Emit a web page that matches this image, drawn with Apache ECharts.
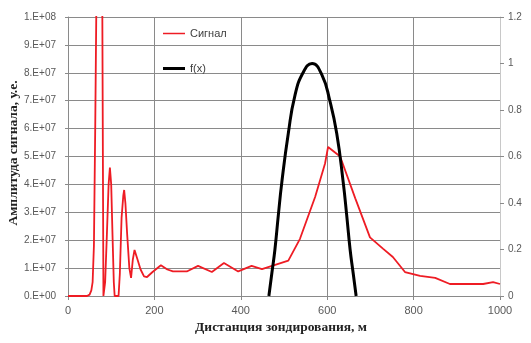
<!DOCTYPE html>
<html>
<head>
<meta charset="utf-8">
<script src="https://cdn.jsdelivr.net/npm/echarts@6/dist/echarts.min.js"></script>
<style>
  html, body { margin: 0; padding: 0; background: #fff; }
  #chart { width: 531px; height: 343px; }
</style>
</head>
<body>
<div id="chart"></div>
<script>
// Sounding distance, m, and the received signal amplitude (arb. units)
const signalDist = [0, 20, 44, 50, 54, 57, 60, 63, 66, 71, 77, 79.5, 82, 86, 90, 94, 97, 100, 103, 106, 108, 117, 120, 124, 128, 130, 133, 137, 142, 146, 150, 154, 160, 168, 176, 183, 195, 215, 230, 243, 275, 301, 333, 361, 394, 425, 449, 510, 537, 572, 595, 602, 630, 665, 699, 729, 752, 780, 815, 850, 884, 961, 984, 1000];
const signalAmp = [0, 0, 0, 5e5, 2e6, 5e6, 1.8e7, 6e7, 1.1e8, 1.5e8, 1.4e8, 1e8, 0, 5e6, 2.2e7, 4e7, 4.6e7, 4e7, 2.2e7, 5e6, 0, 0, 8e6, 2.8e7, 3.6e7, 3.8e7, 3.3e7, 2.2e7, 1e7, 6.5e6, 1.3e7, 1.65e7, 1.35e7, 9.5e6, 7e6, 6.8e6, 8.5e6, 1.1e7, 9.5e6, 8.8e6, 8.8e6, 1.08e7, 8.6e6, 1.18e7, 8.8e6, 1.08e7, 9.6e6, 1.27e7, 2.05e7, 3.55e7, 4.75e7, 5.34e7, 5.0e7, 3.5e7, 2.1e7, 1.7e7, 1.4e7, 8.6e6, 7.2e6, 6.5e6, 4.3e6, 4.3e6, 5e6, 4.3e6];

// Window function f(x), right axis
const fxDist = [465, 472, 479, 487, 495, 510, 525, 544, 565, 588, 606, 622, 637, 645, 653, 660, 667];
const fxValue = [0, 0.1, 0.2, 0.35, 0.49, 0.7, 0.86, 0.96, 1.0, 0.95, 0.84, 0.7, 0.49, 0.35, 0.2, 0.1, 0];

// Axis tick labels
const leftTickLabels = ['0.E+00', '1.E+07', '2.E+07', '3.E+07', '4.E+07', '5.E+07', '6.E+07', '7.E+07', '8.E+07', '9.E+07', '1.E+08'];
const rightTickLabels = ['0', '0.2', '0.4', '0.6', '0.8', '1', '1.2'];
const xTickLabels = ['0', '200', '400', '600', '800', '1000'];

const signalData = signalDist.map((d, i) => [d, signalAmp[i]]);
const fxData = fxDist.map((d, i) => [d, fxValue[i]]);

const gridColor = '#8a8a8a';
const labelColor = '#595959';
const tickFont = 'Liberation Sans';
const nameFont = 'Liberation Serif';

const chart = echarts.init(document.getElementById('chart'), null, { renderer: 'canvas' });
chart.setOption({
  animation: false,
  backgroundColor: '#fff',
  grid: { left: 68, right: 31, top: 17, bottom: 47, containLabel: false, outerBoundsMode: 'none' },
  legend: [
    {
      data: [{ name: 'Сигнал', icon: 'rect' }],
      left: 158, top: 23,
      itemWidth: 22, itemHeight: 1.5,
      textStyle: { fontFamily: tickFont, fontSize: 11, color: '#404040' },
      itemGap: 0
    },
    {
      data: [{ name: 'f(x)', icon: 'rect' }],
      left: 158, top: 58,
      itemWidth: 22, itemHeight: 3,
      textStyle: { fontFamily: tickFont, fontSize: 11, color: '#404040' },
      itemGap: 0
    }
  ],
  xAxis: {
    type: 'value', min: 0, max: 1000, interval: 200,
    name: 'Дистанция зондирования, м',
    nameLocation: 'middle', nameGap: 25, nameMoveOverlap: false,
    nameTextStyle: { fontFamily: nameFont, fontWeight: 'bold', fontSize: 13.5, color: '#222', padding: [0, 6, 0, 0] },
    axisLine: { show: true, lineStyle: { color: gridColor, width: 1 } },
    axisTick: { show: true, length: 4, lineStyle: { color: gridColor } },
    axisLabel: {
      margin: 9, fontFamily: tickFont, fontSize: 11, color: labelColor,
      formatter: (v) => xTickLabels[Math.round(v / 200)]
    },
    splitLine: { show: true, lineStyle: { color: gridColor, width: 1 } }
  },
  yAxis: [
    {
      type: 'value', min: 0, max: 1e8, interval: 1e7,
      name: 'Амплитуда сигнала, у.е.',
      nameLocation: 'middle', nameGap: 47, nameMoveOverlap: false,
      nameTextStyle: { fontFamily: nameFont, fontWeight: 'bold', fontSize: 13.5, color: '#222', padding: [0, 0, 0, 7] },
      axisLine: { show: true, lineStyle: { color: gridColor, width: 1 } },
      axisTick: { show: true, length: 3, lineStyle: { color: gridColor } },
      axisLabel: {
        margin: 12, fontFamily: tickFont, fontSize: 10, color: labelColor,
        formatter: (v) => leftTickLabels[Math.round(v / 1e7)]
      },
      splitLine: { show: true, lineStyle: { color: gridColor, width: 1 } }
    },
    {
      type: 'value', min: 0, max: 1.2, interval: 0.2, position: 'right',
      axisLine: { show: true, lineStyle: { color: '#c8c8c8', width: 1 } },
      axisTick: { show: true, length: 4, lineStyle: { color: gridColor } },
      axisLabel: {
        margin: 8, fontFamily: tickFont, fontSize: 10, color: labelColor,
        formatter: (v) => rightTickLabels[Math.round(v / 0.2)]
      },
      splitLine: { show: false }
    }
  ],
  series: [
    {
      name: 'Сигнал', type: 'line', yAxisIndex: 0,
      data: signalData, showSymbol: false, smooth: false, clip: true,
      lineStyle: { color: '#ee1c24', width: 1.8 },
      itemStyle: { color: '#ee1c24' }
    },
    {
      name: 'f(x)', type: 'line', yAxisIndex: 1,
      data: fxData, showSymbol: false, smooth: true, clip: true,
      lineStyle: { color: '#000', width: 3 },
      itemStyle: { color: '#000' }
    }
  ]
});
</script>
</body>
</html>
